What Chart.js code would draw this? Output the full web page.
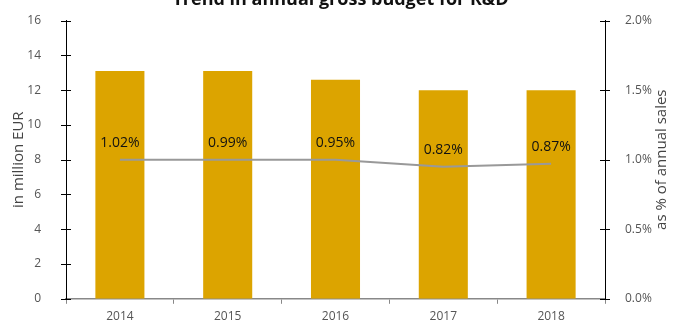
<!DOCTYPE html>
<html>
<head>
<meta charset="utf-8">
<script src="https://cdn.jsdelivr.net/npm/chart.js@4"></script>
<style>
  html, body { margin: 0; padding: 0; background: #fff; overflow: hidden; }
  #wrap { position: relative; width: 681px; height: 323px; overflow: hidden; }
  #chart { position: absolute; left: 0; top: -11px; }
</style>
</head>
<body>
<div id="wrap"><canvas id="chart" width="681" height="334"></canvas></div>
<script>
const years = ["2014", "2015", "2016", "2017", "2018"];
const budget = [13.1, 13.1, 12.6, 12.0, 12.0];          // in million EUR
const shareLine = [1.0, 1.0, 1.0, 0.95, 0.97];           // line as drawn, % of sales
const shareLabels = ["1.02%", "0.99%", "0.95%", "0.82%", "0.87%"];
const rightTitle = "as % of annual sales";

const fontFam = "'Open Sans', sans-serif";

// tick marks that cross the y axes + right axis title read bottom-to-top
const crossTicks = {
  id: "crossTicks",
  afterDraw(chart) {
    const ctx = chart.ctx;
    ctx.save();
    ctx.strokeStyle = "#000";
    ctx.lineWidth = 1;
    ["y", "y1"].forEach(function (id) {
      const s = chart.scales[id];
      const x = id === "y" ? s.right : s.left;
      s.ticks.forEach(function (t, i) {
        const py = Math.round(s.getPixelForTick(i)) + 0.5;
        ctx.beginPath();
        ctx.moveTo(x - 5, py);
        ctx.lineTo(x + 5, py);
        ctx.stroke();
      });
    });
    const r = chart.scales.y1;
    ctx.translate(r.right - 19, (r.top + r.bottom) / 2);
    ctx.rotate(-Math.PI / 2);
    ctx.fillStyle = "#444";
    ctx.font = "15px " + fontFam;
    ctx.textAlign = "center";
    ctx.textBaseline = "middle";
    ctx.fillText(rightTitle, 0, 0);
    ctx.restore();
  }
};

// percentage labels above the line
const lineLabels = {
  id: "lineLabels",
  afterDatasetsDraw(chart) {
    const ctx = chart.ctx;
    const meta = chart.getDatasetMeta(0);
    ctx.save();
    ctx.fillStyle = "#111";
    ctx.font = "14px " + fontFam;
    ctx.textAlign = "center";
    ctx.textBaseline = "middle";
    meta.data.forEach(function (pt, i) {
      ctx.fillText(shareLabels[i], pt.x, pt.y - 17);
    });
    ctx.restore();
  }
};

new Chart(document.getElementById("chart"), {
  data: {
    labels: years,
    datasets: [
      {
        type: "line",
        data: shareLine,
        yAxisID: "y1",
        borderColor: "#999999",
        borderWidth: 2,
        pointRadius: 0,
        tension: 0,
        order: 0,
      },
      {
        type: "bar",
        data: budget,
        yAxisID: "y",
        backgroundColor: "#DCA400",
        categoryPercentage: 1,
        barPercentage: 0.455,
        order: 1,
      },
    ],
  },
  options: {
    responsive: false,
    animation: false,
    layout: { padding: 0 },
    plugins: {
      legend: { display: false },
      tooltip: { enabled: false },
      title: {
        display: true,
        text: "Trend in annual gross budget for R&D",
        color: "#111",
        font: { family: fontFam, size: 18, weight: "bold" },
        padding: { top: 0, bottom: 10 },
      },
    },
    scales: {
      x: {
        grid: { display: true, drawOnChartArea: false, tickLength: 5, color: "#888" },
        border: { display: true, color: "#888", width: 1.5 },
        ticks: { color: "#555", font: { family: fontFam, size: 12 }, padding: 6 },
        afterFit: function (s) { s.height = 24; },
      },
      y: {
        position: "left",
        min: 0,
        max: 16,
        grid: { display: false },
        border: { display: true, color: "#000", width: 1 },
        ticks: { stepSize: 2, color: "#555", font: { family: fontFam, size: 12 }, padding: 17 },
        title: {
          display: true,
          text: "in million EUR",
          color: "#444",
          font: { family: fontFam, size: 15 },
          padding: { top: 10, bottom: 0 },
        },
        afterFit: function (s) { s.width = 66; },
      },
      y1: {
        position: "right",
        min: 0,
        max: 2,
        grid: { display: false },
        border: { display: true, color: "#000", width: 1 },
        ticks: {
          stepSize: 0.5,
          color: "#555",
          font: { family: fontFam, size: 12 },
          padding: 12,
          callback: function (v) { return v.toFixed(1) + "%"; },
        },
        afterFit: function (s) { s.width = 76; },
      },
    },
  },
  plugins: [crossTicks, lineLabels],
});
</script>
</body>
</html>
